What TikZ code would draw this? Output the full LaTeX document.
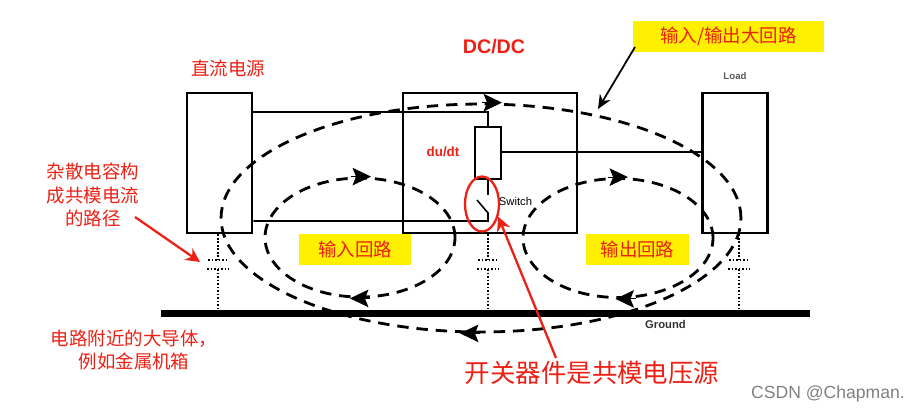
\documentclass[tikz,border=0pt]{standalone}
\usepackage{fontspec}
\setsansfont{Liberation Sans}
\newfontfamily\cjk{Noto Sans CJK SC}
\usetikzlibrary{arrows.meta,shapes.geometric,positioning,calc}
\definecolor{txtred}{RGB}{236,32,20}
\definecolor{hiyellow}{RGB}{255,240,0}
\tikzset{
  block/.style={draw, line width=1.5pt, minimum width=1.3cm, minimum height=2.8cm, inner sep=0pt},
  wire/.style={draw, line width=.9pt},
  looppath/.style={draw, ellipse, line width=1.6pt, dash pattern=on 6.5pt off 4.5pt, inner sep=0pt},
  looptip/.style={line width=.5pt, -{Stealth[length=10.5pt,width=10pt,inset=2pt]}},
  capline/.style={line width=1.3pt, dash pattern=on 1pt off 1pt},
  redlabel/.style={text=txtred, font=\cjk\fontsize{10.5}{13.6}\selectfont, align=center, inner sep=0pt},
  yellowbox/.style={fill=hiyellow, text=txtred, font=\cjk\fontsize{10.5}{12}\selectfont, inner sep=0pt, minimum height=.62cm},
  redarrow/.style={draw=txtred, line width=1.3pt, -{Stealth[length=8pt,width=8pt]}},
  smalltxt/.style={font=\sffamily\bfseries\fontsize{5.5}{6}\selectfont, inner sep=0pt}
}

\begin{document}
\begin{tikzpicture}[x=0.02cm, y=-0.02cm]
  \useasboundingbox (0,0) rectangle (922,417);

  % boxes
  \node[block] (source) at (219.5,163) {};
  \node[block, minimum width=3.48cm] (dcdc) at (490,163) {};
  \node[block] (load) at (735,163) {};
  \node[block, minimum width=.52cm, minimum height=1.04cm] (res) at (488,153) {};

  % wires
  \coordinate (srcT) at (source.east |- 0,112);
  \coordinate (srcB) at (source.east |- 0,221);
  \coordinate (topC) at (res.north |- 0,112);
  \coordinate (resR) at (res.east |- 0,152);
  \coordinate (loadL) at (load.west |- 0,152);
  \coordinate (swTop) at (488,195);
  \coordinate (swA) at (477,200);
  \coordinate (swB) at (488,213);
  \coordinate (swC) at (488,221);
  \draw[wire] (srcT) -- (topC) -- (res.north);
  \draw[wire] (resR) -- (loadL);
  \draw[wire] (res.south) -- (swTop);
  \draw[wire] (swA) -- (swB) -- (swC) -- (srcB);

  % ground and stray capacitors
  \node[fill=black, minimum width=12.98cm, minimum height=.14cm, inner sep=0pt] (gnd) at (485.5,313) {};
  \foreach \name/\x/\y in {a/218/source, b/488/dcdc, c/739/load} {
    \coordinate (p\name) at (\x,260);
    \coordinate (q\name) at (\x,269);
    \draw[capline] (\y.south -| p\name) -- (p\name);
    \draw[capline] ([xshift=-.2cm]p\name) -- ([xshift=.2cm]p\name);
    \draw[capline] ([xshift=-.22cm]q\name) -- ([xshift=.22cm]q\name);
    \draw[capline] (q\name) -- (gnd.north -| q\name);
  }

  % current loops
  \node[looppath, minimum width=10.4cm, minimum height=4.56cm] (bigloop) at (481,218) {};
  \node[looppath, minimum width=3.8cm, minimum height=2.38cm] (inloop) at (360,237.5) {};
  \node[looppath, minimum width=3.8cm, minimum height=2.38cm] (outloop) at (618,238) {};
  \draw[looptip] ([xshift=.02cm]bigloop.north) -- ([xshift=.42cm]bigloop.north);
  \draw[looptip] ([xshift=-.02cm]bigloop.south) -- ([xshift=-.42cm]bigloop.south);
  \draw[looptip] ([xshift=-.18cm]inloop.north) -- ([xshift=.22cm]inloop.north);
  \draw[looptip] ([xshift=.2cm]inloop.south) -- ([xshift=-.2cm]inloop.south);
  \draw[looptip] ([xshift=-.2cm]outloop.north) -- ([xshift=.2cm]outloop.north);
  \draw[looptip] ([xshift=.35cm]outloop.south) -- ([xshift=-.05cm]outloop.south);

  % labels
  \node[yellowbox, minimum width=3.82cm] (biglabel) at (728.5,36.5) {输入/输出大回路};
  \node[yellowbox, minimum width=2.24cm] (inlabel) at (355,249.5) {输入回路};
  \node[yellowbox, minimum width=2.06cm] (outlabel) at (637.5,249.5) {输出回路};
  \node[redlabel] (srclabel) at (228,68) {直流电源};
  \node[font=\sffamily\bfseries\fontsize{11.2}{13}\selectfont, text=txtred, inner sep=0pt] (dclabel) at (494,47) {DC/DC};
  \node[smalltxt, text=black!65] (loadlabel) at (735,76) {Load};
  \node[font=\sffamily\bfseries\fontsize{7.6}{9}\selectfont, text=txtred, inner sep=0pt] (dulabel) at (443,152) {du/dt};
  \node[smalltxt, font=\sffamily\fontsize{6.4}{7}\selectfont] (swlabel) at (515.5,201) {Switch};
  \node[smalltxt, font=\sffamily\bfseries\fontsize{6.4}{7}\selectfont, text=black!80] (gndlabel) at (665.5,324) {Ground};
  \node[redlabel] (straylabel) at (93,195) {杂散电容构\\成共模电流\\的路径};
  \node[redlabel] (conductor) at (134,350) {电路附近的大导体，\\例如金属机箱};
  \node[redlabel, font=\cjk\fontsize{14.5}{16}\selectfont] (swsource) at (592,373) {开关器件是共模电压源};
  \node[font=\sffamily\fontsize{10}{12}\selectfont, text=black!50, inner sep=0pt] (mark) at (828,394) {CSDN @Chapman.};

  % switch marker and arrows
  \node[draw=txtred, ellipse, line width=1.3pt, minimum width=.68cm, minimum height=1.1cm, inner sep=0pt] (swring) at (482,204) {};
  \coordinate (strayend) at (200,262);
  \coordinate (straystart) at (135,217);
  \coordinate (swstart) at (556,358);
  \coordinate (bigend) at (598,109);
  \coordinate (bigstart) at (635,47);
  \draw[redarrow] (straystart) -- (strayend);
  \draw[redarrow] (swstart) -- (swring.-38);
  \draw[line width=1pt, -{Stealth[length=8pt,width=7pt]}] (bigstart) -- (bigend);
\end{tikzpicture}
\end{document}
